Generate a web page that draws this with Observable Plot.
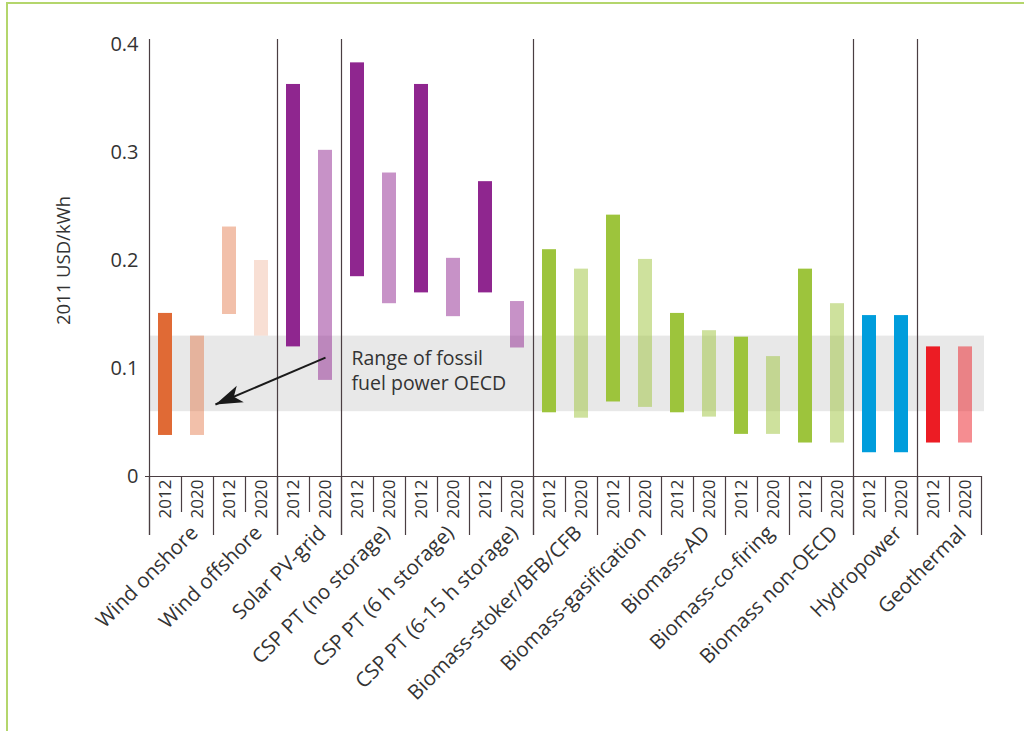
<!DOCTYPE html>
<html>
<head>
<meta charset="utf-8">
<script src="https://cdn.jsdelivr.net/npm/d3@7"></script>
<script src="https://cdn.jsdelivr.net/npm/@observablehq/plot@0.6"></script>
<style>
  body { margin: 0; background: #fff; }
  #frame { position: absolute; left: 6px; top: 2px; width: 1030px; height: 740px;
           border-top: 2px solid #b4d66c; border-left: 2px solid #b4d66c; }
  #chart { position: absolute; left: 0; top: 0; }
</style>
</head>
<body>
<div id="frame"></div>
<div id="chart"></div>
<script>
// ---- data ----
const categories = [
  "Wind onshore", "Wind offshore", "Solar PV-grid", "CSP PT (no storage)",
  "CSP PT (6 h storage)", "CSP PT (6-15 h storage)", "Biomass-stoker/BFB/CFB",
  "Biomass-gasification", "Biomass-AD", "Biomass-co-firing", "Biomass non-OECD",
  "Hydropower", "Geothermal"
];
const years = ["2012", "2020"];
const low2012  = [0.038, 0.150, 0.120, 0.185, 0.170, 0.170, 0.059, 0.069, 0.059, 0.039, 0.031, 0.022, 0.031];
const high2012 = [0.151, 0.231, 0.363, 0.383, 0.363, 0.273, 0.210, 0.242, 0.151, 0.129, 0.192, 0.149, 0.120];
const low2020  = [0.038, 0.130, 0.089, 0.160, 0.148, 0.119, 0.054, 0.064, 0.055, 0.039, 0.031, 0.022, 0.031];
const high2020 = [0.130, 0.200, 0.302, 0.281, 0.202, 0.162, 0.192, 0.201, 0.135, 0.111, 0.160, 0.149, 0.120];
const fossilRange = [0.06, 0.13];
const yTicks = [0, 0.1, 0.2, 0.3, 0.4];
const annotationText = "Range of fossil\nfuel power OECD";

// ---- styles ----
const orange = "#e06a35", purple = "#8f268f", green = "#9dc43c", blue = "#009ddc", red = "#ec1c24";
const groupColors = [orange, orange, purple, purple, purple, purple, green, green, green, green, green, blue, red];
const opacity2012 = [1, 0.42, 1, 1, 1, 1, 1, 1, 1, 1, 1, 1, 1];
const opacity2020 = [0.42, 0.21, 0.5, 0.5, 0.5, 0.5, 0.5, 0.5, 0.5, 0.5, 0.5, 1, 0.5];
const majorBreakGroups = [0, 2, 3, 6, 11, 12];   // groups preceded by a full-height divider
const ink = "#333333", lineInk = "#4a3e42";

// ---- derived tables ----
const lows = [low2012, low2020], highs = [high2012, high2020], ops = [opacity2012, opacity2020];
const rows = categories.flatMap((c, i) => years.map((yr, j) => ({
  cat: c, year: yr, idx: 2 * i + j,
  low: lows[j][i], high: highs[j][i],
  color: groupColors[i], op: ops[j][i]
})));
const nCols = categories.length * years.length;
const groupBounds = d3.range(0, categories.length + 1).map(g => g * years.length);
const subBounds = categories.map((c, i) => i * years.length + 1);
const majorBounds = majorBreakGroups.map(g => g * years.length);
const band = [{lo: fossilRange[0], hi: fossilRange[1]}];
const note = [{x: 6, y: 0.099, text: annotationText}];
const arrowNote = [{x1: 5.5, y1: 0.110, x2: 2.06, y2: 0.0667}];

const plotH = 731 - 44 - 255;

const arrowHead = {
  draw(context) {
    context.moveTo(0, 0);
    context.lineTo(9, 27);
    context.lineTo(0, 20);
    context.lineTo(-9, 27);
    context.closePath();
  }
};

const chart = Plot.plot({
  width: 1024,
  height: 731,
  marginLeft: 149,
  marginRight: 43,
  marginTop: 44,
  marginBottom: 255,
  style: {fontFamily: "'Open Sans', sans-serif", color: ink, background: "transparent"},
  x: {type: "linear", domain: [0, nCols], axis: null},
  y: {domain: [0, 0.4]},
  color: {type: "identity"},
  opacity: {type: "identity"},
  marks: [
    Plot.rectY(band, {x1: () => 0, x2: () => nCols, y1: "lo", y2: "hi", fill: "#e8e8e8", insetRight: -3}),
    Plot.rectY(rows, {
      x1: d => d.idx, x2: d => d.idx + 1, y1: "low", y2: "high",
      fill: "color", fillOpacity: "op", insetLeft: 9, insetRight: 9
    }),
    Plot.ruleX(majorBounds, {stroke: lineInk, strokeWidth: 1.2, insetTop: -5, insetBottom: -59}),
    Plot.ruleX(groupBounds, {stroke: lineInk, strokeWidth: 1.2, insetTop: plotH, insetBottom: -59}),
    Plot.ruleX(subBounds, {stroke: lineInk, strokeWidth: 1.2, insetTop: plotH, insetBottom: -36}),
    Plot.ruleY([0], {stroke: lineInk, strokeWidth: 1.2, insetLeft: -4}),
    Plot.axisY({
      ticks: yTicks, tickSize: 0, tickPadding: 11, fontSize: 20, label: null,
      tickFormat: d => d === 0 ? "0" : d.toFixed(1), fill: ink
    }),
    Plot.text(["2011 USD/kWh"], {
      frameAnchor: "left", rotate: -90, dx: -85, fontSize: 18.5,
      textAnchor: "middle", lineAnchor: "middle", fill: ink
    }),
    Plot.text(rows, {
      x: d => d.idx + 0.5, frameAnchor: "bottom", text: "year",
      rotate: -90, textAnchor: "start", lineAnchor: "middle",
      dy: 42, fontSize: 17, fill: ink
    }),
    Plot.text(categories, {
      x: (d, i) => i * years.length + 1, frameAnchor: "bottom", text: d => d,
      rotate: -45, textAnchor: "end", lineAnchor: "middle",
      dx: 13, dy: 53, fontSize: 20.5, fill: ink
    }),
    Plot.text(note, {
      x: "x", y: "y", text: "text", textAnchor: "start", lineAnchor: "middle",
      dx: 10, fontSize: 19.5, lineHeight: 1.3, fill: ink
    }),
    Plot.link(arrowNote, {x1: "x1", y1: "y1", x2: "x2", y2: "y2", stroke: "#1a1a1a", strokeWidth: 2}),
    Plot.dot(arrowNote, {x: "x2", y: "y2", symbol: arrowHead, rotate: 247, fill: "#1a1a1a", stroke: "none", r: 5})
  ]
});
document.getElementById("chart").appendChild(chart);
</script>
</body>
</html>
